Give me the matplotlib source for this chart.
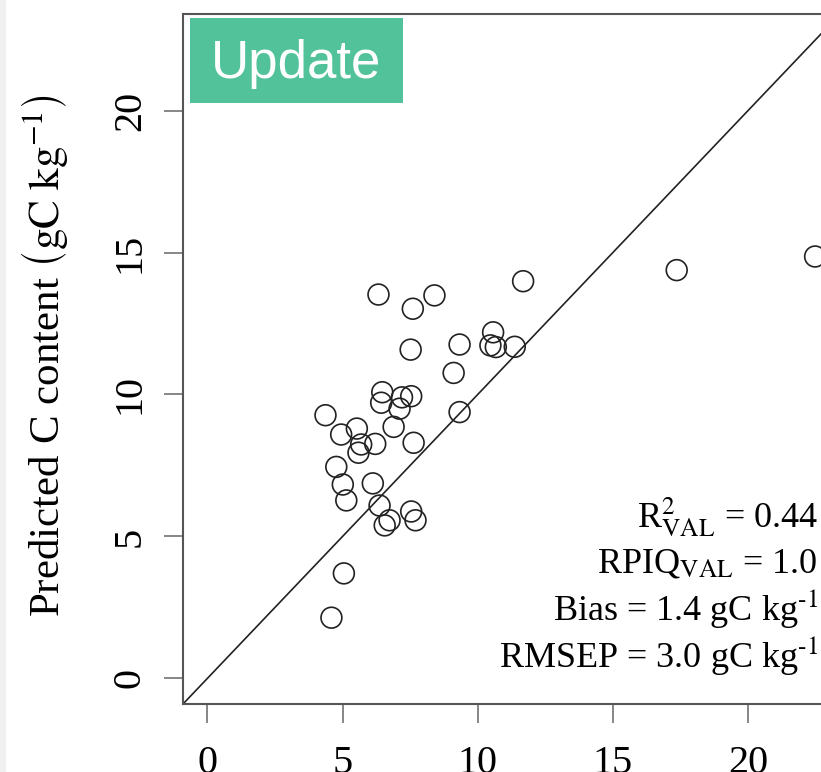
import matplotlib
matplotlib.use("Agg")
import matplotlib.pyplot as plt
from matplotlib.patches import Rectangle

# ---- data ----
observed = [6.33, 7.60, 8.40, 11.68, 7.52, 9.33, 10.57, 10.47, 10.67, 11.37,
            9.11, 6.47, 6.43, 7.54, 7.20, 7.11, 9.33, 4.37, 6.89, 5.53,
            4.95, 5.69, 6.21, 5.59, 7.63, 4.77, 5.01, 5.14, 6.12, 6.37,
            6.74, 6.56, 7.54, 7.70, 5.05, 4.59, 17.36, 22.48]
predicted = [13.52, 13.02, 13.49, 13.99, 11.58, 11.76, 12.19, 11.73, 11.67, 11.68,
             10.76, 10.08, 9.71, 9.94, 9.90, 9.50, 9.38, 9.27, 8.86, 8.80,
             8.59, 8.24, 8.26, 7.95, 8.30, 7.45, 6.83, 6.27, 6.87, 6.09,
             5.57, 5.39, 5.88, 5.57, 3.70, 2.14, 14.38, 14.86]
ticks = [0, 5, 10, 15, 20]
tick_labels = ["0", "5", "10", "15", "20"]
stats_lines = [r"R$^{2}_{\mathrm{VAL}}$ = 0.44",
               r"RPIQ$_{\mathrm{VAL}}$ = 1.0",
               r"Bias = 1.4 gC kg$^{\text{-1}}$",
               r"RMSEP = 3.0 gC kg$^{\text{-1}}$"]
ylabel = r"Predicted C content $\left(\mathrm{gC\ kg^{-1}}\right)$"
badge = "Update"

plt.rcParams["font.family"] = ["Liberation Serif", "DejaVu Serif"]
plt.rcParams["mathtext.fontset"] = "stix"

W, H = 821, 772
fig = plt.figure(figsize=(W / 100, H / 100), dpi=100)
fig.patch.set_facecolor("white")
fig.add_artist(Rectangle((0, 0), 6 / W, 1, transform=fig.transFigure,
                         facecolor="#f0f0f0", edgecolor="none"))

ax = fig.add_axes([183 / W, (H - 704) / H, 657 / W, 690 / H])
ax.set_xlim(-0.9, 23.4)
ax.set_ylim(-0.9, 23.4)

ax.axline((0, 0), slope=1, color="#222222", lw=1.2, zorder=2)
ax.scatter(observed, predicted, s=225, facecolors="none", edgecolors="#222222",
           linewidths=1.2, zorder=3)

for side in ["left", "top", "bottom", "right"]:
    ax.spines[side].set_color("#555555")
    ax.spines[side].set_linewidth(1.5)

ax.set_xticks(ticks)
ax.set_xticklabels(tick_labels, fontsize=29)
ax.set_yticks(ticks)
ax.set_yticklabels(tick_labels, fontsize=29, rotation=90, va="center")
ax.tick_params(axis="both", length=13.5, width=1.1, color="#666666")
ax.tick_params(axis="x", pad=16)
ax.tick_params(axis="y", pad=11)

ax.set_ylabel(ylabel, fontsize=31)
ax.yaxis.set_label_coords((70 - 183) / 657, 0.505)

# stats block
baselines = [527, 572, 620, 667]
for txt, yb in zip(stats_lines, baselines):
    fig.text(818 / W, (H - yb) / H, txt, ha="right", va="baseline", fontsize=26)

# badge
fig.add_artist(Rectangle((190 / W, (H - 103) / H), 213 / W, 85 / H,
                         transform=fig.transFigure, facecolor="#52c29a",
                         edgecolor="none", zorder=5))
fig.text(296.5 / W, (H - 78) / H, badge, ha="center", va="baseline",
         fontsize=38, color="white", family=["Liberation Sans"], zorder=6)

fig.savefig("out.png", dpi=100)
